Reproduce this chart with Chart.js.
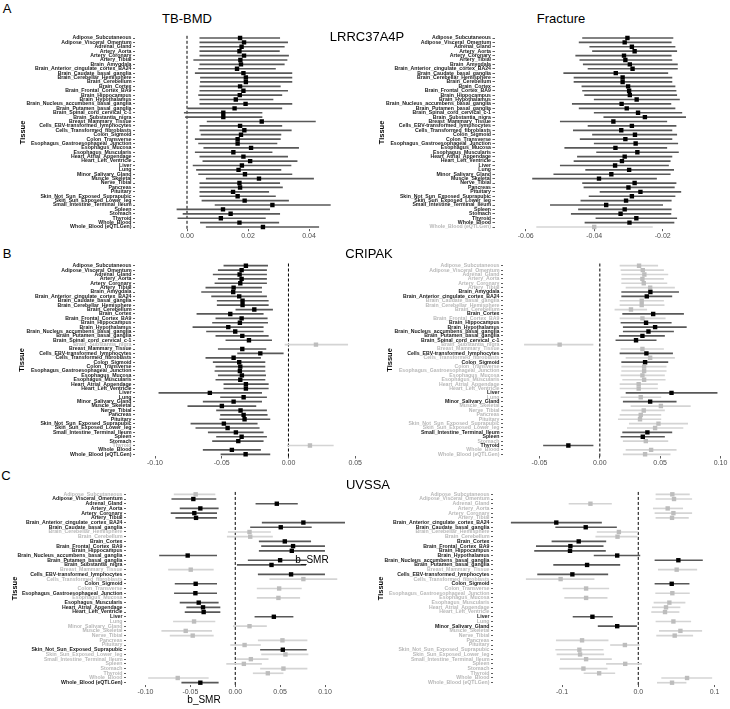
<!DOCTYPE html>
<html>
<head>
<meta charset="utf-8">
<script src="https://cdn.jsdelivr.net/npm/chart.js@4.4.1/dist/chart.umd.min.js"></script>
<style>
  body { margin: 0; background: #fff; }
  #page { position: relative; width: 730px; height: 709px; overflow: hidden; font-family: "Liberation Sans", Arial, sans-serif; }
  #page canvas { position: absolute; }
  .txt { position: absolute; transform: translate(-50%, -50%); line-height: 1; white-space: nowrap; color: #000; }
</style>
</head>
<body>
<div id="page">
  <div class="txt" style="left:7px;top:7.5px;font-size:13px">A</div>
  <div class="txt" style="left:7px;top:252.5px;font-size:13px">B</div>
  <div class="txt" style="left:6px;top:475px;font-size:13px">C</div>
  <div class="txt" style="left:187px;top:18px;font-size:13px">TB-BMD</div>
  <div class="txt" style="left:561px;top:18px;font-size:13px">Fracture</div>
</div>
<script>
// tissues in GTEx order (rows, top to bottom)
const tissues = [
  "Adipose_Subcutaneous", "Adipose_Visceral_Omentum", "Adrenal_Gland", "Artery_Aorta", "Artery_Coronary",
  "Artery_Tibial", "Brain_Amygdala", "Brain_Anterior_cingulate_cortex_BA24", "Brain_Caudate_basal_ganglia",
  "Brain_Cerebellar_Hemisphere", "Brain_Cerebellum", "Brain_Cortex", "Brain_Frontal_Cortex_BA9",
  "Brain_Hippocampus", "Brain_Hypothalamus", "Brain_Nucleus_accumbens_basal_ganglia", "Brain_Putamen_basal_ganglia",
  "Brain_Spinal_cord_cervical_c-1", "Brain_Substantia_nigra", "Breast_Mammary_Tissue",
  "Cells_EBV-transformed_lymphocytes", "Cells_Transformed_fibroblasts", "Colon_Sigmoid", "Colon_Transverse",
  "Esophagus_Gastroesophageal_Junction", "Esophagus_Mucosa", "Esophagus_Muscularis", "Heart_Atrial_Appendage",
  "Heart_Left_Ventricle", "Liver", "Lung", "Minor_Salivary_Gland", "Muscle_Skeletal", "Nerve_Tibial", "Pancreas",
  "Pituitary", "Skin_Not_Sun_Exposed_Suprapubic", "Skin_Sun_Exposed_Lower_leg", "Small_Intestine_Terminal_Ileum",
  "Spleen", "Stomach", "Thyroid", "Whole_Blood", "Whole_Blood (eQTLGen)"
];
// UVSSA has no result in these tissues
const uvssaBmdMissing = ["Brain_Amygdala", "Brain_Hypothalamus", "Brain_Spinal_cord_cervical_c-1"];
const uvssaFxMissing = ["Brain_Amygdala", "Brain_Spinal_cord_cervical_c-1", "Brain_Substantia_nigra"];
const uvssaBmdTissues = tissues.filter(t => !uvssaBmdMissing.includes(t));
const uvssaFxTissues = tissues.filter(t => !uvssaFxMissing.includes(t));

// tick values
const ticksA1 = [0, 0.02, 0.04];
const ticksA2 = [-0.06, -0.04, -0.02];
const ticksB1 = [-0.10, -0.05, 0, 0.05];
const ticksB2 = [-0.05, 0, 0.05, 0.10];
const ticksC1 = [-0.10, -0.05, 0, 0.05, 0.10];
const ticksC2 = [-0.1, 0, 0.1];

// LRRC37A4P - TB-BMD
const lrrcBmdB = [0.0174,0.0187,0.0179,0.0172,0.0187,0.0175,0.0177,0.0164,0.0185,0.0193,0.0193,0.0174,0.0185,0.0173,0.0160,0.0192,0.0156,0.0119,0.0119,0.0245,0.0174,0.0188,0.0177,0.0166,0.0166,0.0210,0.0152,0.0185,0.0207,0.0180,0.0169,0.0190,0.0236,0.0172,0.0174,0.0151,0.0166,0.0189,0.0280,0.0118,0.0143,0.0111,0.0172,0.0249];
const lrrcBmdLo = [0.0042,0.0042,0.0042,0.0042,0.0042,0.0022,0.0042,0.0038,0.0027,0.0044,0.0044,0.0042,0.0042,0.0038,0.0042,0.0042,0.0002,-0.0009,-0.0005,0.0066,0.0042,0.0042,0.0046,0.0027,0.0038,0.0055,0.0027,0.0042,0.0052,0.0020,0.0031,0.0038,0.0063,0.0042,0.0042,0.0042,0.0042,0.0049,0.0092,-0.0033,-0.0013,-0.0030,0.0044,0.0063];
const lrrcBmdHi = [0.0304,0.0330,0.0319,0.0303,0.0333,0.0328,0.0319,0.0290,0.0344,0.0344,0.0344,0.0306,0.0330,0.0311,0.0282,0.0344,0.0311,0.0246,0.0246,0.0421,0.0311,0.0342,0.0308,0.0306,0.0295,0.0366,0.0279,0.0330,0.0361,0.0341,0.0308,0.0344,0.0415,0.0304,0.0313,0.0268,0.0290,0.0333,0.0470,0.0271,0.0304,0.0257,0.0301,0.0432];
const lrrcBmdSig = [1,1,1,1,1,1,1,1,1,1,1,1,1,1,1,1,1,1,1,1,1,1,1,1,1,1,1,1,1,1,1,1,1,1,1,1,1,1,1,1,1,1,1,1];

// LRRC37A4P - Fracture
const lrrcFxB = [-0.0303,-0.0311,-0.0290,-0.0282,-0.0313,-0.0309,-0.0296,-0.0288,-0.0337,-0.0317,-0.0317,-0.0301,-0.0298,-0.0296,-0.0276,-0.0320,-0.0305,-0.0272,-0.0252,-0.0344,-0.0290,-0.0321,-0.0281,-0.0309,-0.0279,-0.0338,-0.0274,-0.0311,-0.0319,-0.0339,-0.0298,-0.0350,-0.0386,-0.0282,-0.0300,-0.0265,-0.0290,-0.0307,-0.0365,-0.0311,-0.0323,-0.0277,-0.0297,-0.0400];
const lrrcFxLo = [-0.0434,-0.0444,-0.0413,-0.0405,-0.0454,-0.0442,-0.0432,-0.0418,-0.0489,-0.0459,-0.0459,-0.0436,-0.0434,-0.0428,-0.0400,-0.0464,-0.0444,-0.0400,-0.0372,-0.0499,-0.0418,-0.0461,-0.0405,-0.0441,-0.0400,-0.0486,-0.0393,-0.0449,-0.0459,-0.0499,-0.0425,-0.0518,-0.0580,-0.0434,-0.0430,-0.0383,-0.0415,-0.0439,-0.0528,-0.0446,-0.0467,-0.0395,-0.0427,-0.0568];
const lrrcFxHi = [-0.0170,-0.0175,-0.0164,-0.0159,-0.0175,-0.0173,-0.0157,-0.0157,-0.0185,-0.0173,-0.0173,-0.0164,-0.0161,-0.0159,-0.0151,-0.0176,-0.0164,-0.0144,-0.0133,-0.0188,-0.0161,-0.0173,-0.0159,-0.0173,-0.0156,-0.0188,-0.0154,-0.0173,-0.0178,-0.0183,-0.0168,-0.0178,-0.0218,-0.0161,-0.0166,-0.0147,-0.0164,-0.0175,-0.0200,-0.0175,-0.0176,-0.0159,-0.0167,-0.0230];
const lrrcFxSig = [1,1,1,1,1,1,1,1,1,1,1,1,1,1,1,1,1,1,1,1,1,1,1,1,1,1,1,1,1,1,1,1,1,1,1,1,1,1,1,1,1,1,1,0];

// CRIPAK - TB-BMD
const cripakBmdB = [-0.0319,-0.0351,-0.0366,-0.0351,-0.0361,-0.0411,-0.0414,-0.0369,-0.0344,-0.0344,-0.0256,-0.0436,-0.0351,-0.0364,-0.0451,-0.0399,-0.0346,-0.0296,0.0206,-0.0346,-0.0211,-0.0411,-0.0369,-0.0361,-0.0364,-0.0349,-0.0361,-0.0319,-0.0319,-0.0589,-0.0336,-0.0411,-0.0499,-0.0359,-0.0336,-0.0329,-0.0484,-0.0456,-0.0394,-0.0351,-0.0376,0.0161,-0.0424,-0.0321];
const cripakBmdLo = [-0.0484,-0.0526,-0.0564,-0.0526,-0.0551,-0.0619,-0.0651,-0.0576,-0.0534,-0.0534,-0.0394,-0.0686,-0.0544,-0.0569,-0.0716,-0.0614,-0.0544,-0.0469,-0.0026,-0.0526,-0.0381,-0.0619,-0.0564,-0.0544,-0.0551,-0.0526,-0.0544,-0.0484,-0.0484,-0.0971,-0.0509,-0.0639,-0.0754,-0.0539,-0.0509,-0.0514,-0.0731,-0.0694,-0.0601,-0.0539,-0.0569,-0.0009,-0.0639,-0.0506];
const cripakBmdHi = [-0.0156,-0.0164,-0.0164,-0.0164,-0.0164,-0.0201,-0.0201,-0.0164,-0.0151,-0.0151,-0.0119,-0.0189,-0.0159,-0.0156,-0.0189,-0.0189,-0.0151,-0.0126,0.0444,-0.0169,-0.0039,-0.0209,-0.0176,-0.0176,-0.0176,-0.0171,-0.0176,-0.0151,-0.0151,-0.0201,-0.0164,-0.0201,-0.0244,-0.0164,-0.0159,-0.0139,-0.0234,-0.0219,-0.0189,-0.0164,-0.0189,0.0336,-0.0209,-0.0139];
const cripakBmdSig = [1,1,1,1,1,1,1,1,1,1,1,1,1,1,1,1,1,1,0,1,1,1,1,1,1,1,1,1,1,1,1,1,1,1,1,1,1,1,1,1,1,0,1,1];

// CRIPAK - Fracture
const cripakFxB = [0.0325,0.0356,0.0369,0.0353,0.0364,0.0417,0.0419,0.0389,0.0347,0.0347,0.0258,0.0442,0.0353,0.0383,0.0458,0.0403,0.0353,0.0300,-0.0333,0.0353,0.0386,0.0417,0.0375,0.0367,0.0367,0.0353,0.0367,0.0322,0.0322,0.0594,0.0339,0.0417,0.0506,0.0364,0.0339,0.0333,0.0486,0.0458,0.0394,0.0356,0.0381,-0.0261,0.0425,0.0375];
const cripakFxLo = [0.0167,0.0175,0.0181,0.0181,0.0181,0.0217,0.0181,0.0181,0.0167,0.0167,0.0125,0.0189,0.0167,0.0175,0.0194,0.0194,0.0161,0.0133,-0.0625,0.0175,0.0167,0.0217,0.0181,0.0181,0.0181,0.0175,0.0189,0.0167,0.0167,0.0217,0.0175,0.0194,0.0258,0.0181,0.0167,0.0153,0.0244,0.0228,0.0189,0.0175,0.0194,-0.0467,0.0217,0.0194];
const cripakFxHi = [0.0480,0.0528,0.0564,0.0528,0.0556,0.0619,0.0653,0.0597,0.0528,0.0533,0.0389,0.0694,0.0542,0.0592,0.0717,0.0611,0.0536,0.0467,-0.0056,0.0528,0.0603,0.0619,0.0564,0.0550,0.0550,0.0536,0.0542,0.0478,0.0478,0.0972,0.0506,0.0633,0.0750,0.0536,0.0506,0.0506,0.0728,0.0689,0.0597,0.0536,0.0564,-0.0056,0.0633,0.0583];
const cripakFxSig = [0,0,0,0,0,0,1,1,0,0,0,1,0,1,1,1,1,1,0,0,1,0,1,0,0,0,0,0,0,1,0,1,0,0,0,0,0,0,1,1,0,1,0,0];

// UVSSA - TB-BMD
const uvssaBmdB = [-0.0441,-0.0467,0.0463,-0.0389,-0.0456,-0.0437,0.0759,0.0507,0.0159,0.0167,0.0552,0.0644,0.0630,-0.0530,0.0500,0.0404,-0.0496,0.0622,0.0759,-0.0441,0.0489,-0.0444,0.0481,-0.0407,-0.0359,-0.0352,0.0430,-0.0459,0.0159,-0.0552,-0.0474,0.0526,0.0104,0.0530,0.0559,0.0174,0.0096,0.0537,0.0363,-0.0641,-0.0389];
const uvssaBmdLo = [-0.0681,-0.0707,0.0230,-0.0615,-0.0715,-0.0663,0.0300,0.0170,-0.0078,-0.0089,0.0267,0.0293,0.0267,-0.0844,0.0144,0.0022,-0.0744,0.0256,0.0385,-0.0670,0.0244,-0.0678,0.0244,-0.0615,-0.0541,-0.0559,0.0219,-0.0689,-0.0022,-0.0819,-0.0726,0.0256,-0.0052,0.0281,0.0293,0.0015,-0.0096,0.0281,0.0200,-0.0967,-0.0596];
const uvssaBmdHi = [-0.0226,-0.0215,0.0693,-0.0189,-0.0207,-0.0207,0.1219,0.0848,0.0393,0.0415,0.0841,0.0996,0.0996,-0.0207,0.0800,0.0785,-0.0244,0.0996,0.1133,-0.0207,0.0737,-0.0207,0.0719,-0.0189,-0.0170,-0.0170,0.0644,-0.0226,0.0348,-0.0263,-0.0244,0.0800,0.0281,0.0793,0.0811,0.0367,0.0293,0.0800,0.0533,-0.0300,-0.0189];
const uvssaBmdSig = [0,1,1,1,1,1,1,1,0,0,1,1,1,1,1,1,0,1,0,1,0,1,0,1,1,1,1,0,0,0,0,0,0,1,0,0,0,0,0,0,1];

// UVSSA - Fracture
const uvssaFxB = [0.0447,0.0469,-0.0627,0.0386,0.0461,0.0443,-0.1075,-0.0689,-0.0254,-0.0272,-0.0781,-0.0890,-0.0895,-0.0276,0.0526,-0.0671,0.0504,-0.0864,-0.1018,0.0439,-0.0684,0.0447,-0.0684,0.0408,0.0364,0.0351,-0.0601,0.0461,-0.0276,0.0553,0.0478,-0.0737,-0.0175,-0.0772,-0.0763,-0.0684,-0.0171,-0.0719,-0.0513,0.0640,0.0443];
const uvssaFxLo = [0.0232,0.0232,-0.0908,0.0197,0.0219,0.0232,-0.1666,-0.1083,-0.0539,-0.0557,-0.1132,-0.1337,-0.1360,-0.0579,0.0219,-0.1110,0.0263,-0.1320,-0.1469,0.0219,-0.0987,0.0228,-0.0965,0.0206,0.0184,0.0175,-0.0855,0.0232,-0.0526,0.0276,0.0241,-0.1075,-0.0364,-0.1083,-0.1066,-0.1022,-0.0417,-0.1031,-0.0711,0.0307,0.0250];
const uvssaFxHi = [0.0671,0.0702,-0.0351,0.0583,0.0702,0.0658,-0.0482,-0.0285,0.0000,-0.0013,-0.0425,-0.0460,-0.0430,0.0022,0.0842,-0.0241,0.0768,-0.0399,-0.0579,0.0667,-0.0386,0.0671,-0.0408,0.0614,0.0548,0.0535,-0.0338,0.0689,-0.0022,0.0833,0.0715,-0.0395,0.0013,-0.0460,-0.0452,-0.0351,0.0044,-0.0408,-0.0307,0.0965,0.0627];
const uvssaFxSig = [0,0,0,0,0,0,1,1,0,0,1,1,1,1,1,1,0,1,0,1,0,0,0,0,0,0,1,0,1,0,0,0,0,0,0,0,0,0,0,0,0];

Chart.defaults.font.family = '"Liberation Sans", Arial, sans-serif';

const XAXIS_H = 14; // height kept for the x tick labels

// dashed vertical line at b = 0
const zeroLine = {
  id: 'zeroLine',
  beforeDatasetsDraw(chart) {
    const x = chart.scales.x;
    if (x.min > 0 || x.max < 0) return;
    const px = x.getPixelForValue(0);
    const ctx = chart.ctx;
    ctx.save();
    ctx.strokeStyle = '#000';
    ctx.lineWidth = 1;
    ctx.setLineDash([3, 2]);
    ctx.beginPath();
    ctx.moveTo(px, chart.chartArea.top);
    ctx.lineTo(px, chart.chartArea.bottom);
    ctx.stroke();
    ctx.restore();
  }
};

// one forest plot; box = canvas [left, top, w, h], plot = chart area [left, right],
// rows = centre of first and last row, anchor = two (value, pixel) pairs of the x axis
function makePanel(p) {
  const [bx, by, bw, bh] = p.box;
  const [L, R] = p.plot;
  const n = p.labels.length;
  const step = (p.rows[1] - p.rows[0]) / (n - 1);
  const top = p.rows[0] - step / 2;
  const bottom = p.rows[1] + step / 2;
  const [v0, p0, v1, p1] = p.anchor;
  const k = (v1 - v0) / (p1 - p0);

  const cv = document.createElement('canvas');
  cv.width = bw;
  cv.height = bh;
  cv.style.left = bx + 'px';
  cv.style.top = by + 'px';
  document.getElementById('page').appendChild(cv);

  new Chart(cv.getContext('2d'), {
    type: 'bar',
    data: {
      labels: p.labels,
      datasets: [{
        indexAxis: 'y',
        data: p.lo.map((v, i) => [v, p.hi[i]]),
        backgroundColor: p.sig.map(s => s ? '#585858' : '#d4d4d4'),
        barThickness: 1,
        borderWidth: 0,
        order: 2
      }, {
        type: 'line',
        indexAxis: 'y',
        data: p.b,
        showLine: false,
        pointStyle: 'rect',
        pointRadius: 3.1,
        pointBorderWidth: 0,
        pointBackgroundColor: p.sig.map(s => s ? '#000' : '#bdbdbd'),
        order: 1
      }]
    },
    options: {
      indexAxis: 'y',
      responsive: false,
      animation: false,
      events: [],
      layout: {
        autoPadding: false,
        padding: { top: top - by, bottom: by + bh - bottom - XAXIS_H, left: 0, right: bx + bw - R }
      },
      plugins: { legend: { display: false }, tooltip: { enabled: false } },
      scales: {
        x: {
          type: 'linear',
          min: v0 + (L - p0) * k,
          max: v0 + (R - p0) * k,
          afterBuildTicks: s => { s.ticks = p.ticks.map(v => ({ value: v })); },
          afterFit: s => { s.height = XAXIS_H; },
          border: { display: false },
          grid: { drawOnChartArea: false, tickLength: 2, color: '#333', lineWidth: 0.8 },
          ticks: {
            autoSkip: false, maxRotation: 0, padding: 0.5,
            color: '#4d4d4d', font: { size: 7 },
            callback: v => v.toFixed(p.dec)
          }
        },
        y: {
          afterFit: s => { s.width = L - bx; },
          border: { display: false },
          grid: { drawOnChartArea: false, tickLength: 2, offset: false, color: '#333', lineWidth: 0.8 },
          ticks: {
            autoSkip: false, padding: 1.5,
            font: { size: 5.2, weight: 'bold' },
            color: c => p.sig[c.index] ? '#1a1a1a' : '#b8b8b8'
          },
          title: {
            display: true, text: 'Tissue', color: '#000',
            font: { size: 7.5, weight: 'bold' },
            padding: { top: p.titleX - bx - 4.5, bottom: 0 }
          }
        }
      }
    },
    plugins: [zeroLine]
  });
}

const panels = [
  { box: [0, 24, 360, 222], plot: [135, 350], rows: [38.0, 227.0], anchor: [0, 187, 0.04, 309],
    ticks: ticksA1, dec: 2, titleX: 23,
    labels: tissues, b: lrrcBmdB, lo: lrrcBmdLo, hi: lrrcBmdHi, sig: lrrcBmdSig },
  { box: [365, 24, 365, 222], plot: [494.5, 722], rows: [38.0, 227.0], anchor: [-0.06, 525.7, -0.02, 662.7],
    ticks: ticksA2, dec: 2, titleX: 382,
    labels: tissues, b: lrrcFxB, lo: lrrcFxLo, hi: lrrcFxHi, sig: lrrcFxSig },
  { box: [0, 254, 372, 218], plot: [135, 362], rows: [265.7, 454.3], anchor: [-0.10, 155, 0.05, 355.2],
    ticks: ticksB1, dec: 2, titleX: 22,
    labels: tissues, b: cripakBmdB, lo: cripakBmdLo, hi: cripakBmdHi, sig: cripakBmdSig },
  { box: [365, 254, 365, 218], plot: [503, 724], rows: [265.7, 454.3], anchor: [-0.05, 539.5, 0.10, 720.5],
    ticks: ticksB2, dec: 2, titleX: 390,
    labels: tissues, b: cripakFxB, lo: cripakFxLo, hi: cripakFxHi, sig: cripakFxSig },
  { box: [0, 485, 360, 217], plot: [126, 345], rows: [494.3, 682.7], anchor: [-0.10, 145.5, 0.10, 325],
    ticks: ticksC1, dec: 2, titleX: 15,
    labels: uvssaBmdTissues, b: uvssaBmdB, lo: uvssaBmdLo, hi: uvssaBmdHi, sig: uvssaBmdSig },
  { box: [365, 485, 365, 217], plot: [493, 724], rows: [494.3, 682.7], anchor: [-0.1, 562, 0.1, 714.5],
    ticks: ticksC2, dec: 1, titleX: 381,
    labels: uvssaFxTissues, b: uvssaFxB, lo: uvssaFxLo, hi: uvssaFxHi, sig: uvssaFxSig }
];

panels.forEach(makePanel);

// gene names and axis titles on top of the plots
const page = document.getElementById('page');
[
  ['LRRC37A4P', 367, 36, 13], ['CRIPAK', 369, 253, 13], ['UVSSA', 368, 484, 13],
  ['b_SMR', 204, 700, 10], ['b_SMR', 312, 560, 10]
].forEach(([t, x, y, s]) => {
  const d = document.createElement('div');
  d.className = 'txt';
  d.textContent = t;
  d.style.left = x + 'px';
  d.style.top = y + 'px';
  d.style.fontSize = s + 'px';
  page.appendChild(d);
});
</script>
</body>
</html>
